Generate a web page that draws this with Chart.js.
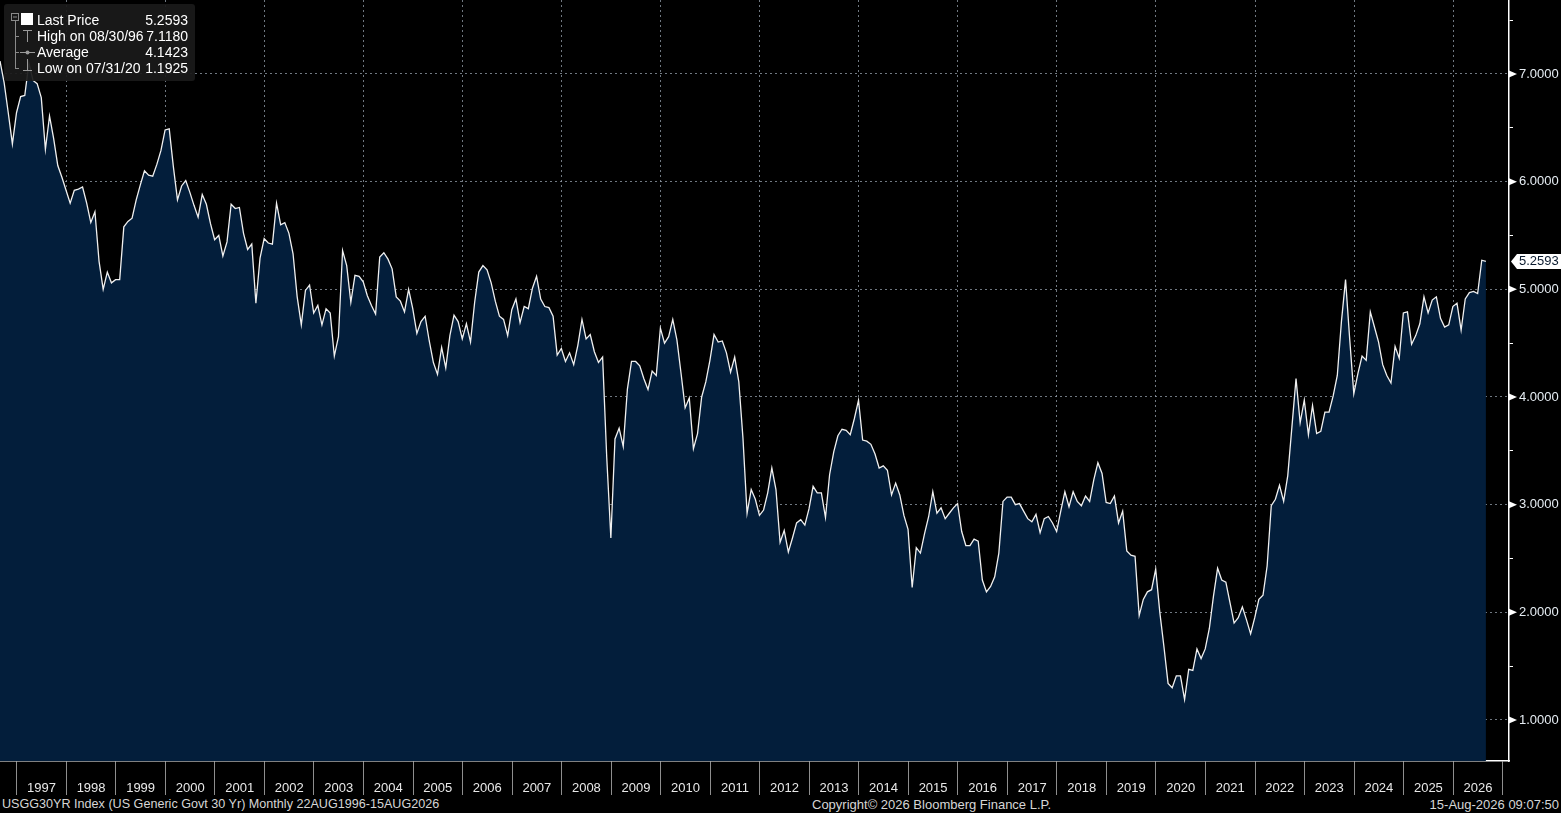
<!DOCTYPE html>
<html>
<head>
<meta charset="utf-8">
<script src="https://cdn.jsdelivr.net/npm/chart.js@4.4.1/dist/chart.umd.min.js"></script>
<style>
html, body { margin:0; padding:0; background:#000; overflow:hidden; }
body { width:1561px; height:813px; position:relative; font-family:"Liberation Sans", Arial, sans-serif; }
#wrap { position:absolute; left:0; top:0; width:1561px; height:796px; }
#legend { position:absolute; left:4px; top:4px; width:191px; height:77px; background:rgba(26,26,26,0.93); border-radius:3px; color:#fff; font-size:14px; }
#legend .row { position:absolute; left:33px; right:7px; height:16px; line-height:16px; }
#legend .row span.v { position:absolute; right:0; top:0; }
#legend svg { position:absolute; left:0; top:0; }
#footer { position:absolute; left:0; top:796px; width:1561px; height:17px; color:#d6d6d6; font-size:13px; line-height:17px; }
#footer div { position:absolute; top:0; white-space:nowrap; }
</style>
</head>
<body>
<div id="wrap"><canvas id="grafico" width="1561" height="796"></canvas></div>

<div id="legend">
  <svg width="36" height="77">
    <rect x="7.5" y="9.5" width="7" height="7" fill="none" stroke="#8a8a8a"/>
    <line x1="9" y1="13" x2="13" y2="13" stroke="#8a8a8a"/>
    <line x1="11.5" y1="17" x2="11.5" y2="64" stroke="#8a8a8a"/>
    <line x1="11" y1="32.5" x2="15" y2="32.5" stroke="#8a8a8a"/>
    <line x1="11" y1="48.5" x2="15" y2="48.5" stroke="#8a8a8a"/>
    <line x1="11" y1="64.5" x2="15" y2="64.5" stroke="#8a8a8a"/>
    <rect x="17" y="9" width="12" height="12" fill="#ffffff"/>
    <line x1="19" y1="26.5" x2="28" y2="26.5" stroke="#9a9a9a"/>
    <line x1="23.5" y1="26" x2="23.5" y2="38" stroke="#9a9a9a"/>
    <line x1="16" y1="48.5" x2="31" y2="48.5" stroke="#9a9a9a"/>
    <circle cx="23.5" cy="48.5" r="2" fill="#9a9a9a"/>
    <line x1="23.5" y1="55" x2="23.5" y2="66" stroke="#9a9a9a"/>
    <line x1="19" y1="66.5" x2="28" y2="66.5" stroke="#9a9a9a"/>
  </svg>
  <div class="row" style="top:8px">Last Price<span class="v">5.2593</span></div>
  <div class="row" style="top:24px">High on 08/30/96<span class="v">7.1180</span></div>
  <div class="row" style="top:40px">Average<span class="v">4.1423</span></div>
  <div class="row" style="top:56px">Low on 07/31/20<span class="v">1.1925</span></div>
</div>

<div id="footer">
  <div style="left:2px; font-size:12.6px">USGG30YR Index (US Generic Govt 30 Yr) Monthly 22AUG1996-15AUG2026</div>
  <div style="left:812px">Copyright© 2026 Bloomberg Finance L.P.</div>
  <div style="right:2px">15-Aug-2026 09:07:50</div>
</div>

<script>
// rendimento mensal do Treasury de 30 anos (fim de mes), ago/1996 ate ago/2026
const rend1996a2000 = [
  7.12, 6.92, 6.64, 6.35, 6.64,
  6.79, 6.80, 7.10, 6.94, 6.91, 6.78, 6.30, 6.61, 6.40, 6.15, 6.04, 5.92,
  5.80, 5.92, 5.93, 5.95, 5.80, 5.62, 5.72, 5.26, 5.00, 5.16, 5.06, 5.09,
  5.09, 5.58, 5.63, 5.66, 5.83, 5.97, 6.10, 6.06, 6.05, 6.16, 6.29, 6.48,
  6.49, 6.14, 5.83, 5.96, 6.01, 5.90, 5.78, 5.67, 5.88, 5.79, 5.61, 5.46
];
const rend2001a2005 = [
  5.50, 5.31, 5.44, 5.79, 5.75, 5.76, 5.52, 5.37, 5.42, 4.87, 5.29, 5.47,
  5.43, 5.42, 5.80, 5.60, 5.62, 5.52, 5.33, 4.93, 4.67, 4.99, 5.04, 4.78,
  4.85, 4.67, 4.82, 4.78, 4.38, 4.56, 5.36, 5.22, 4.88, 5.13, 5.12, 5.07,
  4.94, 4.85, 4.77, 5.30, 5.34, 5.28, 5.19, 4.93, 4.89, 4.79, 5.00, 4.82,
  4.59, 4.70, 4.75, 4.52, 4.32, 4.21, 4.46, 4.27, 4.57, 4.76, 4.70, 4.54
];
const rend2006a2010 = [
  4.68, 4.51, 4.88, 5.16, 5.22, 5.18, 5.06, 4.89, 4.75, 4.72, 4.57, 4.81,
  4.91, 4.69, 4.84, 4.82, 5.01, 5.12, 4.91, 4.84, 4.83, 4.75, 4.39, 4.45,
  4.33, 4.41, 4.30, 4.48, 4.72, 4.54, 4.58, 4.42, 4.32, 4.37, 3.44, 2.69,
  3.61, 3.71, 3.54, 4.07, 4.33, 4.33, 4.29, 4.17, 4.07, 4.24, 4.20, 4.64,
  4.50, 4.56, 4.72, 4.53, 4.22, 3.90, 3.99, 3.52, 3.66, 4.00, 4.14, 4.34
];
const rend2011a2015 = [
  4.58, 4.51, 4.52, 4.41, 4.23, 4.37, 4.14, 3.62, 2.92, 3.14, 3.05, 2.90,
  2.95, 3.11, 3.34, 3.14, 2.65, 2.76, 2.56, 2.69, 2.83, 2.86, 2.81, 2.96,
  3.17, 3.11, 3.11, 2.88, 3.28, 3.49, 3.64, 3.70, 3.69, 3.65, 3.80, 3.97,
  3.60, 3.59, 3.56, 3.47, 3.34, 3.36, 3.32, 3.09, 3.20, 3.09, 2.90, 2.77,
  2.23, 2.60, 2.55, 2.73, 2.89, 3.12, 2.92, 2.97, 2.87, 2.92, 2.97, 3.01
];
const rend2016a2020 = [
  2.75, 2.62, 2.62, 2.68, 2.66, 2.30, 2.19, 2.24, 2.33, 2.55, 3.03, 3.07,
  3.07, 3.00, 3.01, 2.94, 2.87, 2.84, 2.91, 2.74, 2.87, 2.89, 2.83, 2.75,
  2.94, 3.12, 2.98, 3.12, 3.03, 2.99, 3.08, 3.03, 3.23, 3.39, 3.29, 3.02,
  3.01, 3.08, 2.83, 2.94, 2.57, 2.53, 2.52, 1.97, 2.12, 2.19, 2.21, 2.40,
  2.00, 1.68, 1.34, 1.30, 1.41, 1.41, 1.19, 1.47, 1.46, 1.66, 1.57, 1.66
];
const rend2021a2026 = [
  1.85, 2.15, 2.41, 2.30, 2.28, 2.09, 1.90, 1.95, 2.05, 1.93, 1.80, 1.95,
  2.12, 2.16, 2.43, 2.99, 3.05, 3.18, 3.03, 3.27, 3.72, 4.17, 3.76, 3.97,
  3.65, 3.92, 3.66, 3.68, 3.86, 3.86, 4.01, 4.20, 4.70, 5.09, 4.54, 4.03,
  4.22, 4.38, 4.34, 4.79, 4.65, 4.51, 4.30, 4.20, 4.13, 4.47, 4.36, 4.78,
  4.79, 4.49, 4.57, 4.68, 4.93, 4.78, 4.90, 4.93, 4.73, 4.65, 4.67, 4.84,
  4.87, 4.62, 4.91, 4.97, 4.98, 4.96, 5.27, 5.2593
];

const anos = ['1997','1998','1999','2000','2001','2002','2003','2004','2005','2006',
  '2007','2008','2009','2010','2011','2012','2013','2014','2015','2016',
  '2017','2018','2019','2020','2021','2022','2023','2024','2025','2026'];
const valoresEixoY = [1, 2, 3, 4, 5, 6, 7];
const ultimoPreco = 5.2593;

const rendimentos = [].concat(rend1996a2000, rend2001a2005, rend2006a2010,
  rend2011a2015, rend2016a2020, rend2021a2026);

// x em meses desde o fim de ago/1996; virada de ano 1997 cai em ~4.07
const inicioAno = 4.07;
const pontos = rendimentos.map((v, i) => ({x: i, y: v}));

const fonte = '"Liberation Sans", Arial, sans-serif';
const corGrade = 'rgba(150,160,172,0.75)';

const marcadores = {
  id: 'marcadores',
  afterDraw(chart) {
    const ctx = chart.ctx;
    const y = chart.scales.y;
    const dir = chart.chartArea.right;
    ctx.save();
    ctx.fillStyle = '#ffffff';
    for (const v of valoresEixoY) {
      const py = y.getPixelForValue(v);
      ctx.beginPath();
      ctx.moveTo(dir, py - 3.5);
      ctx.lineTo(dir + 8, py);
      ctx.lineTo(dir, py + 3.5);
      ctx.closePath();
      ctx.fill();
    }
    // caixa do ultimo preco
    const py = y.getPixelForValue(ultimoPreco);
    ctx.beginPath();
    ctx.moveTo(dir + 2, py);
    ctx.lineTo(dir + 8, py - 7.5);
    ctx.lineTo(chart.width, py - 7.5);
    ctx.lineTo(chart.width, py + 7.5);
    ctx.lineTo(dir + 8, py + 7.5);
    ctx.closePath();
    ctx.fill();
    ctx.fillStyle = '#0a1a2e';
    ctx.font = '13px ' + fonte;
    ctx.textBaseline = 'middle';
    ctx.textAlign = 'left';
    ctx.fillText(ultimoPreco.toFixed(4), dir + 10, py + 0.5);
    ctx.restore();
  }
};

const ctx = document.getElementById('grafico').getContext('2d');
const myChart = new Chart(ctx, {
  type: 'line',
  data: {
    datasets: [{
      data: pontos,
      borderColor: '#f0f0f0',
      borderWidth: 1.3,
      backgroundColor: '#031e3b',
      fill: 'start',
      pointRadius: 0,
      tension: 0
    }]
  },
  options: {
    responsive: false,
    animation: false,
    layout: { padding: 0 },
    plugins: { legend: { display: false }, tooltip: { enabled: false } },
    scales: {
      x: {
        type: 'linear',
        min: 0,
        max: 365.6,
        z: 1,
        afterBuildTicks(s) {
          const t = [];
          for (let k = 0; k <= anos.length; k++) {
            t.push({value: inicioAno + 12 * k, tipo: 'virada', par: k % 2 === 1});
            if (k < anos.length) t.push({value: inicioAno + 12 * k + 6, tipo: 'meio', rotulo: anos[k]});
          }
          s.ticks = t;
        },
        afterFit(s) {
          s.height = 35;
          s.paddingLeft = 0;
          s.paddingRight = 0;
        },
        ticks: {
          autoSkip: false,
          maxRotation: 0,
          padding: -14,
          color: '#e8e8e8',
          font: { size: 13, family: fonte },
          callback: (v, i, ticks) => ticks[i].rotulo || ''
        },
        grid: {
          color: c => (c.tick && c.tick.tipo === 'virada' && c.tick.par) ? corGrade : 'rgba(0,0,0,0)',
          tickColor: c => (c.tick && c.tick.tipo === 'virada') ? '#8e8e8e' : 'rgba(0,0,0,0)',
          tickLength: 34,
          lineWidth: 1
        },
        border: { color: '#ffffff', width: 1.5, dash: [2, 3] }
      },
      y: {
        position: 'right',
        min: 0.619,
        max: 7.687,
        z: 1,
        afterBuildTicks(s) {
          const t = [];
          for (const v of valoresEixoY) {
            t.push({value: v});
            t.push({value: v + 0.5});
          }
          s.ticks = t;
        },
        afterFit(s) {
          s.width = 52;
          s.paddingTop = 0;
          s.paddingBottom = 0;
        },
        ticks: {
          padding: 6,
          color: '#e6edf3',
          font: { size: 13, family: fonte },
          callback: v => Number.isInteger(v) ? v.toFixed(4) : ''
        },
        grid: {
          color: c => (c.tick && Number.isInteger(c.tick.value)) ? corGrade : 'rgba(0,0,0,0)',
          tickColor: c => (c.tick && !Number.isInteger(c.tick.value)) ? '#ffffff' : 'rgba(0,0,0,0)',
          tickLength: 4,
          lineWidth: 1
        },
        border: { color: '#ffffff', width: 1.5, dash: [2, 3] }
      }
    }
  },
  plugins: [marcadores]
});
</script>
</body>
</html>
